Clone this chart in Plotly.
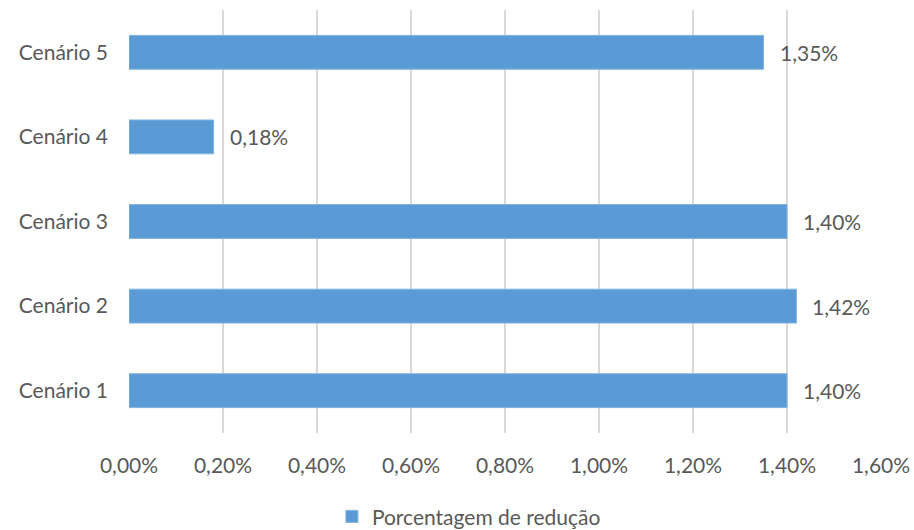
import plotly.graph_objects as go

categories = ["Cenário 1", "Cenário 2", "Cenário 3", "Cenário 4", "Cenário 5"]
values = [1.40, 1.42, 1.40, 0.18, 1.35]
tick_vals = [0, 0.2, 0.4, 0.6, 0.8, 1.0, 1.2, 1.4, 1.6]
tick_text = ["0,00%", "0,20%", "0,40%", "0,60%", "0,80%", "1,00%", "1,20%", "1,40%", "1,60%"]
series_name = "Porcentagem de redução"

BAR = "#5B9BD5"
TXT = "#595959"
GRID = "#D9D9D9"
FONT = "Lato, 'Open Sans', sans-serif"
FS = 21


def fmt(v):
    return f"{v:.2f}".replace(".", ",") + "%"


fig = go.Figure()
fig.add_trace(go.Bar(
    y=categories,
    x=values,
    orientation="h",
    name=series_name,
    marker=dict(color=BAR, line=dict(color="#7FB2E0", width=1)),
    hoverinfo="skip",
))

for c, v in zip(categories, values):
    fig.add_annotation(
        x=v, y=c, text=fmt(v), showarrow=False,
        xanchor="left", yanchor="middle", xshift=14,
        font=dict(size=FS, color=TXT, family=FONT),
    )

fig.update_layout(
    width=914, height=530,
    margin=dict(l=129, r=33, t=10, b=97, autoexpand=False),
    plot_bgcolor="white", paper_bgcolor="white",
    font=dict(family=FONT, size=FS, color=TXT),
    bargap=0.6,
    showlegend=True,
    legend=dict(
        orientation="h", x=0.452, xanchor="center",
        yref="container", y=0.025, yanchor="middle",
        font=dict(size=FS, color=TXT, family=FONT),
        itemwidth=30,
    ),
)
fig.update_xaxes(
    range=[0, 1.6], tickvals=tick_vals, ticktext=tick_text,
    showgrid=True, gridcolor=GRID, gridwidth=1.5,
    zeroline=False, showline=False, ticks="",
    ticklabelstandoff=18,
    tickfont=dict(size=FS, color=TXT, family=FONT),
)
fig.update_yaxes(
    categoryorder="array", categoryarray=categories,
    showgrid=False, zeroline=False, showline=False, ticks="",
    ticklabelstandoff=20,
    tickfont=dict(size=FS, color=TXT, family=FONT),
)

fig.write_html("out.html")
